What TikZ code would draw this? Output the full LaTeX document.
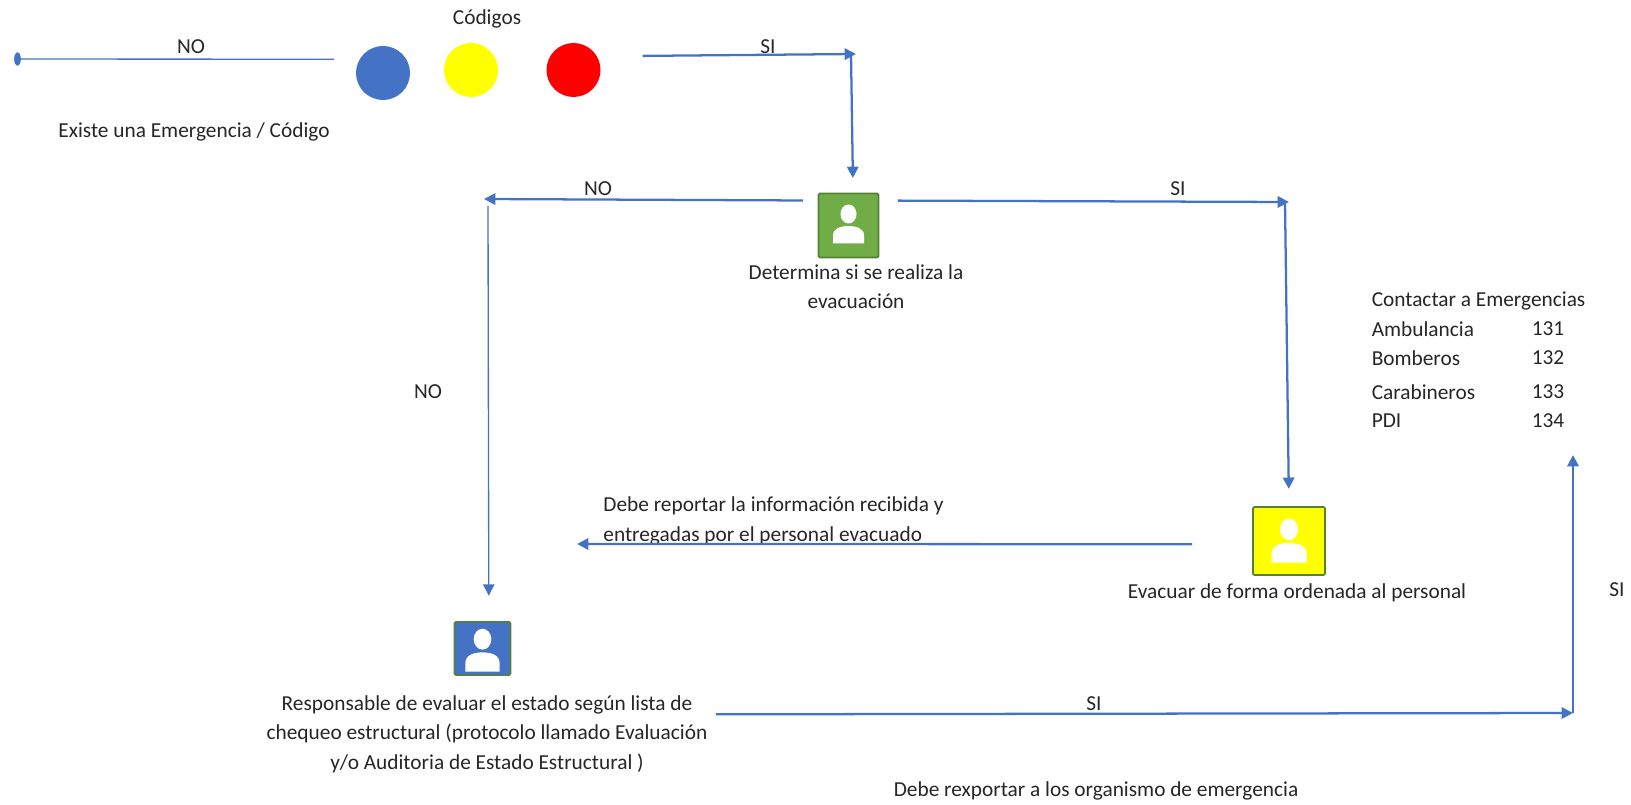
\documentclass[tikz,border=0pt]{standalone}
\usepackage{fontspec}
\setmainfont{Carlito}
\usepackage{tikz}
\usetikzlibrary{arrows.meta,shapes}

\definecolor{linkblue}{HTML}{4472C4}
\definecolor{boxgreen}{HTML}{70AD47}
\definecolor{boxedge}{HTML}{548235}
\definecolor{inkgray}{HTML}{262626}
\definecolor{codeyellow}{HTML}{FFFF00}
\definecolor{codered}{HTML}{FF0000}

\tikzset{
  label/.style={font=\fontsize{16}{22}\selectfont,text=inkgray,inner sep=1pt},
  para/.style={label,align=center,inner sep=3pt},
  code/.style={circle,fill=#1,minimum size=40.5pt,inner sep=0pt},
  role/.style={rectangle,rounded corners=1pt,draw=boxedge,line width=1.2pt,fill=#1,inner sep=0pt},
  link/.style={->,linkblue,line width=1.7pt},
  thin link/.style={linkblue,line width=1pt},
  person/.pic={
    \fill[white] (0,-11.5) ellipse (8 and 9.5);
    \fill[white] (-15.5,18) -- (-15.5,10) .. controls (-15.5,3) and (-8,.5) .. (0,.5)
      .. controls (8,.5) and (15.5,3) .. (15.5,10) -- (15.5,18) -- cycle;
  }
}

\begin{document}
\begin{tikzpicture}[x=.75pt,y=-.75pt,>={Triangle[length=8.5pt,width=8.5pt]},semithick]
  \useasboundingbox (0,0) rectangle (1631,805);

  \node[label]            (codes)  at (487,19)   {Códigos};
  \node[code=linkblue]    (blue)   at (383,73)   {};
  \node[code=codeyellow]  (amber)  at (471,70)   {};
  \node[code=codered]     (alarm)  at (573.5,70) {};
  \node[ellipse,fill=linkblue,minimum width=5pt,minimum height=10pt,inner sep=0pt]
                          (start)  at (17.5,59)  {};
  \node[label]            (exists) at (194,132)  {Existe una Emergencia / Código};

  \node[role=boxgreen,minimum width=45pt,minimum height=48pt]  (decide)  at (848.5,225.5) {};
  \node[role=codeyellow,minimum width=54pt,minimum height=51pt] (evacuate) at (1289,541)  {};
  \node[role=linkblue,minimum width=42pt,minimum height=40pt]  (assess)  at (482.5,648.5) {};
  \pic at (decide) {person};
  \pic[scale=1.13] at ([yshift=-1pt]evacuate) {person};
  \pic[scale=1.1] at ([yshift=-2.5pt]assess) {person};

  \node[para] (decidetxt)   at (856,287)  {Determina si se realiza la\\evacuación};
  \node[para] (evacuatetxt) at (1297,593) {Evacuar de forma ordenada al personal};
  \node[para] (assesstxt)   at (487,734)  {Responsable de evaluar el estado según lista de\\
    chequeo estructural (protocolo llamado Evaluación\\y/o Auditoria de Estado Estructural )};
  \node[label] (mustreport) at (1096,791) {Debe rexportar a los organismo de emergencia};
  \node[para,align=left,anchor=west] (report) at (599,521)
    {Debe reportar la información recibida y\\entregadas por el personal evacuado};

  \node[label,anchor=west] (contact) at (1370,301) {Contactar a Emergencias};
  \node[label,anchor=west] (amb)     at (1370,329) {Ambulancia};
  \node[label,anchor=west] (bom)     at (1370,358) {Bomberos};
  \node[label,anchor=west] (car)     at (1370,392) {Carabineros};
  \node[label,anchor=west] (pdi)     at (1370,421) {PDI};
  \node[label,anchor=west] (n131)    at (1530,329) {131};
  \node[label,anchor=west] (n132)    at (1530,358) {132};
  \node[label,anchor=west] (n133)    at (1530,392) {133};
  \node[label,anchor=west] (n134)    at (1530,421) {134};

  \node[label] (no1) at (191,47)   {NO};
  \node[label] (si1) at (768,47)   {SI};
  \node[label] (no2) at (598,189)  {NO};
  \node[label] (si2) at (1178,189) {SI};
  \node[label] (no3) at (428,392)  {NO};
  \node[label] (si3) at (1094,704) {SI};
  \node[label] (si4) at (1617,590) {SI};

  \coordinate (tip1)   at (856,54);
  \coordinate (turn1)  at (851,54);
  \coordinate (tip2)   at (1289,202);
  \coordinate (turn2)  at (1285,202);
  \coordinate (turn3)  at (484,199);
  \coordinate (drop3)  at (488,206);
  \coordinate (left4)  at (577,544);
  \coordinate (turn5)  at (1573,713);
  \coordinate (up5)    at (1573,455);

  \path (start)     edge[thin link,shorten >=19pt]               (blue.150)
        (alarm.30)  edge[link,shorten <=34pt]                    (tip1)
        (turn1)     edge[link,shorten >=11pt]                    (decide.82)
        (decide.141) edge[link,shorten <=11pt]                   (turn3)
        (decide.39) edge[link,shorten <=14pt]                    (tip2)
        (turn2)     edge[link,shorten >=13pt]                    (evacuate.north)
        (drop3)     edge[->,thin link,shorten >=19pt]            (assess.77)
        (evacuate.185) edge[link,shorten <=45pt]                 (left4)
        (assesstxt.5) edge[link,shorten <=3pt]                   (turn5)
        (turn5)     edge[link]                                   (up5);
\end{tikzpicture}
\end{document}
